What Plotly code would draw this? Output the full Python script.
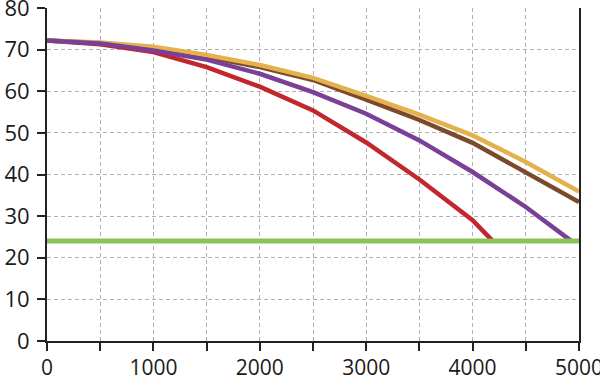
import plotly.graph_objects as go

x_vals = [0, 500, 1000, 1500, 2000, 2500, 3000, 3500, 4000, 4500, 5000]

red_x = [0, 500, 1000, 1500, 2000, 2500, 3000, 3500, 4000, 4190]
red_y = [72.2, 71.3, 69.4, 65.8, 61.1, 55.4, 47.7, 38.8, 29.0, 24.0]

purple_x = [0, 500, 1000, 1500, 2000, 2500, 3000, 3500, 4000, 4500, 4930]
purple_y = [72.2, 71.5, 69.8, 67.6, 64.2, 59.8, 54.6, 48.2, 40.6, 32.2, 24.0]

brown_y = [72.2, 71.6, 70.4, 68.3, 65.8, 62.7, 58.0, 53.1, 47.6, 40.6, 33.4]
gold_y = [72.2, 71.7, 70.7, 68.7, 66.3, 63.2, 58.9, 54.4, 49.4, 43.0, 35.9]

green_x = [0, 5000]
green_y = [24.0, 24.0]

x_tickvals = [0, 500, 1000, 1500, 2000, 2500, 3000, 3500, 4000, 4500, 5000]
x_ticktext = ["0", "", "1000", "", "2000", "", "3000", "", "4000", "", "5000"]
y_tickvals = [0, 10, 20, 30, 40, 50, 60, 70, 80]

fig = go.Figure()
fig.add_trace(go.Scatter(x=red_x, y=red_y, mode="lines", line=dict(color="#c1272d", width=4.5)))
fig.add_trace(go.Scatter(x=x_vals, y=brown_y, mode="lines", line=dict(color="#7a4a2a", width=4.5)))
fig.add_trace(go.Scatter(x=x_vals, y=gold_y, mode="lines", line=dict(color="#e3b24c", width=4.5)))
fig.add_trace(go.Scatter(x=purple_x, y=purple_y, mode="lines", line=dict(color="#7a3f97", width=4.5)))
fig.add_trace(go.Scatter(x=green_x, y=green_y, mode="lines", line=dict(color="#8cc25a", width=5)))

font = dict(family="Open Sans, sans-serif", size=22, color="#1a1a1a")
xfont = dict(family="Open Sans, sans-serif", size=21, color="#1a1a1a")

fig.update_layout(
    width=600, height=380,
    margin=dict(l=47, r=21, t=8, b=39),
    paper_bgcolor="white", plot_bgcolor="white",
    showlegend=False,
    font=font,
)
fig.update_xaxes(
    range=[0, 5000], tickvals=x_tickvals, ticktext=x_ticktext,
    showline=True, linecolor="#222222", linewidth=2,
    ticks="outside", ticklen=8, tickwidth=2, tickcolor="#222222",
    showgrid=True, gridcolor="#b0b0b0", gridwidth=1, griddash="4px,3px",
    zeroline=False, tickfont=xfont, ticklabelstandoff=-1,
    automargin=False, ticklabeloverflow="allow",
)
fig.update_yaxes(
    range=[0, 80], tickvals=y_tickvals,
    showline=True, linecolor="#222222", linewidth=2, mirror=True,
    ticks="outside", ticklen=8, tickwidth=2, tickcolor="#222222",
    showgrid=True, gridcolor="#b0b0b0", gridwidth=1, griddash="4px,3px",
    zeroline=False, tickfont=font, ticklabelstandoff=3,
    automargin=False, ticklabeloverflow="allow",
)

fig.write_html(
    "out.html",
    config={"displayModeBar": False},
    post_script="document.body.style.margin='0';document.body.style.padding='0';",
)
